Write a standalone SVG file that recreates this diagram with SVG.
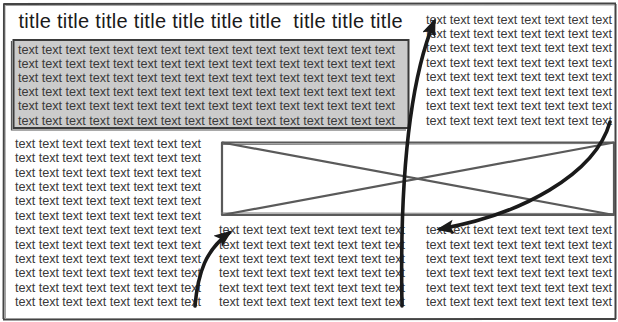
<svg xmlns="http://www.w3.org/2000/svg" width="618" height="322" viewBox="0 0 618 322">
<defs>
<style>
.t{font-family:"Liberation Sans",Arial,sans-serif;font-size:12.7px;fill:#3a3a3a}
.title{font-family:"Liberation Sans",Arial,sans-serif;font-size:20px;fill:#1a1a1a;white-space:pre}
.sk{fill:none;stroke:#5a5a5a;stroke-width:2.2;stroke-linejoin:round}
.conn{fill:none;stroke:#1a1a1a;stroke-width:3.6;stroke-linecap:round}
</style>
<marker id="ah" markerUnits="userSpaceOnUse" markerWidth="20" markerHeight="16" refX="14" refY="7" orient="auto">
<path d="M0,0 L18,7 L0,14 L4,7 z" fill="#1a1a1a"/>
</marker>
</defs>
<rect width="618" height="322" fill="#ffffff"/>
<g id="frame">
<path d="M3.5,4 L616,3.5 M4,3.5 L3.5,319 M3,319.5 L616,319 M615.5,4 L615.5,319" fill="none" stroke="#444" stroke-width="2"/>
<path d="M5.5,5.5 L614,5 M5,5 L5.5,318" fill="none" stroke="#888" stroke-width="0.8"/>
</g>
<g id="title">
<text class="title" x="18.5" y="28" textLength="384" lengthAdjust="spacing" xml:space="preserve">title title title title title title title  title title title</text>
</g>
<g id="graybox">
<rect x="13.5" y="40" width="395" height="88" fill="#cbcbcb" stroke="#3a3a3a" stroke-width="2"/>
<path d="M11.5,41 L11.5,130 L406,130" fill="none" stroke="#555" stroke-width="1.2"/>
<g class="t">
<text x="18" y="53.5" textLength="377">text text text text text text text text text text text text text text text text</text>
<text x="18" y="67.7" textLength="377">text text text text text text text text text text text text text text text text</text>
<text x="18" y="81.9" textLength="377">text text text text text text text text text text text text text text text text</text>
<text x="18" y="96.1" textLength="377">text text text text text text text text text text text text text text text text</text>
<text x="18" y="110.3" textLength="377">text text text text text text text text text text text text text text text text</text>
<text x="18" y="124.5" textLength="377">text text text text text text text text text text text text text text text text</text>
</g>
</g>
<g id="rightcol" class="t">
<text x="426" y="23.5" textLength="186">text text text text text text text text</text>
<text x="426" y="37.9" textLength="186">text text text text text text text text</text>
<text x="426" y="52.4" textLength="186">text text text text text text text text</text>
<text x="426" y="66.8" textLength="186">text text text text text text text text</text>
<text x="426" y="81.2" textLength="186">text text text text text text text text</text>
<text x="426" y="95.7" textLength="186">text text text text text text text text</text>
<text x="426" y="110.1" textLength="186">text text text text text text text text</text>
<text x="426" y="124.5" textLength="186">text text text text text text text text</text>
</g>
<g id="leftcol" class="t">
<text x="15" y="147.7" textLength="186">text text text text text text text text</text>
<text x="15" y="162.1" textLength="186">text text text text text text text text</text>
<text x="15" y="176.5" textLength="186">text text text text text text text text</text>
<text x="15" y="190.9" textLength="186">text text text text text text text text</text>
<text x="15" y="205.3" textLength="186">text text text text text text text text</text>
<text x="15" y="219.7" textLength="186">text text text text text text text text</text>
<text x="15" y="234.1" textLength="186">text text text text text text text text</text>
<text x="15" y="248.5" textLength="186">text text text text text text text text</text>
<text x="15" y="262.9" textLength="186">text text text text text text text text</text>
<text x="15" y="277.3" textLength="186">text text text text text text text text</text>
<text x="15" y="291.7" textLength="186">text text text text text text text text</text>
<text x="15" y="306.1" textLength="186">text text text text text text text text</text>
</g>
<g id="image">
<rect x="222" y="142.5" width="392" height="72.5" class="sk"/>
<path d="M223,144.5 L612,143.5 M221,213 L613,213.5" fill="none" stroke="#777" stroke-width="1"/>
<path d="M222,142.5 L614,215 M222,215 L614,142.5" class="sk"/>
</g>
<g id="bottommid" class="t">
<text x="219" y="234.1" textLength="186">text text text text text text text text</text>
<text x="219" y="248.5" textLength="186">text text text text text text text text</text>
<text x="219" y="262.9" textLength="186">text text text text text text text text</text>
<text x="219" y="277.3" textLength="186">text text text text text text text text</text>
<text x="219" y="291.7" textLength="186">text text text text text text text text</text>
<text x="219" y="306.1" textLength="186">text text text text text text text text</text>
</g>
<g id="bottomright" class="t">
<text x="426" y="234.1" textLength="186">text text text text text text text text</text>
<text x="426" y="248.5" textLength="186">text text text text text text text text</text>
<text x="426" y="262.9" textLength="186">text text text text text text text text</text>
<text x="426" y="277.3" textLength="186">text text text text text text text text</text>
<text x="426" y="291.7" textLength="186">text text text text text text text text</text>
<text x="426" y="306.1" textLength="186">text text text text text text text text</text>
</g>
<g id="connectors">
<path class="conn" d="M195,306 C198,272 206,250 229,233" marker-end="url(#ah)"/>
<path class="conn" d="M402,306 C400,200 406,90 434,22" marker-end="url(#ah)"/>
<path class="conn" d="M610,122 C595,175 520,215 440,229" marker-end="url(#ah)"/>
</g>
</svg>
